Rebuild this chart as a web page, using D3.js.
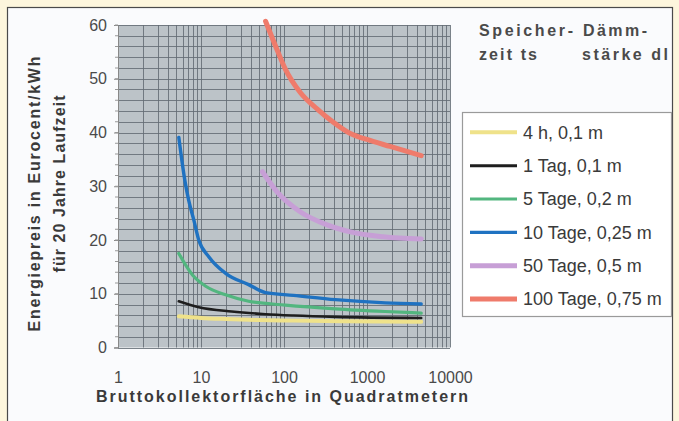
<!DOCTYPE html>
<html><head><meta charset="utf-8">
<script src="https://cdn.jsdelivr.net/npm/d3@7"></script>
<style>
html,body{margin:0;padding:0;background:#fdf6dd;}
svg{display:block;font-family:"Liberation Sans",Arial,sans-serif;}
</style></head><body>
<svg id="chart" width="679" height="421"></svg>
<script>
// ---------- data ----------
const xTicks = [1, 10, 100, 1000, 10000];
const yTicks = [0, 10, 20, 30, 40, 50, 60];
const seriesNames = ["4 h, 0,1 m", "1 Tag, 0,1 m", "5 Tage, 0,2 m", "10 Tage, 0,25 m", "50 Tage, 0,5 m", "100 Tage, 0,75 m"];
const seriesColors = ["#efe28a", "#1e1e1e", "#52b67f", "#1f72c1", "#c79fd6", "#ef7b6b"];
const seriesWidths = [4, 2.6, 3.2, 3.4, 5, 5];

const area4h   = [5.4, 10, 20, 50, 130, 500, 4500];
const price4h  = [5.8, 5.5, 5.3, 5.1, 5.0, 4.9, 4.8];
const area1d   = [5.4, 9.4, 23.4, 60, 130, 416, 4500];
const price1d  = [8.6, 7.5, 6.7, 6.2, 5.95, 5.7, 5.5];
const area5d   = [5.4, 7.9, 11.4, 19.8, 37.5, 104, 416, 1657, 4500];
const price5d  = [17.5, 13.5, 11.4, 9.8, 8.6, 7.9, 7.2, 6.7, 6.4];
const area10d  = [5.4, 6.4, 7.1, 8.2, 9.4, 12.4, 19.8, 37.5, 60, 130, 416, 1657, 4500];
const price10d = [39.1, 31, 27.4, 23.7, 20, 16.9, 13.8, 11.7, 10.2, 9.7, 8.9, 8.3, 8.1];
const area50d  = [55, 83, 158, 330, 630, 1567, 4500];
const price50d = [32.7, 28.9, 25.2, 22.8, 21.5, 20.6, 20.2];
const area100d = [60, 79, 103, 158, 250, 393, 630, 1000, 1900, 4500];
const price100d= [60.7, 56.1, 51.9, 47.4, 44.4, 41.9, 39.8, 38.7, 37.4, 35.7];

const seriesX = [area4h, area1d, area5d, area10d, area50d, area100d];
const seriesY = [price4h, price1d, price5d, price10d, price50d, price100d];

// ---------- layout ----------
const svg = d3.select("#chart");
const L = 118, R = 450, T = 25, B = 347.5;
const x = d3.scaleLog().domain([1, 10000]).range([L, R]);
const y = d3.scaleLinear().domain([0, 60]).range([B, T]);

// frame
svg.append("rect").attr("x", 0).attr("y", 0).attr("width", 679).attr("height", 421).attr("fill", "#fdf6dd");
svg.append("rect").attr("x", 7.5).attr("y", 7.5).attr("width", 665).attr("height", 430)
  .attr("fill", "#fafbfd").attr("stroke", "#4a4a4a").attr("stroke-width", 1.2);

// plot background
svg.append("rect").attr("x", L).attr("y", T).attr("width", R - L).attr("height", B - T).attr("fill", "#bcc3c8");

// grid
const minorX = [];
for (let d = 1; d < 10000; d *= 10) for (let k = 1; k <= 9; k++) minorX.push(d * k);
minorX.push(10000);
const gridColor = "#646d75";
svg.append("g").selectAll("line").data(minorX).join("line")
  .attr("x1", d => Math.round(x(d)) + 0.5).attr("x2", d => Math.round(x(d)) + 0.5)
  .attr("y1", T).attr("y2", B).attr("stroke", gridColor).attr("stroke-width", 1).attr("opacity", 0.85);
const minorY = d3.range(0, 61, 2);
svg.append("g").selectAll("line").data(minorY).join("line")
  .attr("x1", L).attr("x2", R)
  .attr("y1", d => Math.round(y(d)) + 0.5).attr("y2", d => Math.round(y(d)) + 0.5)
  .attr("stroke", gridColor).attr("stroke-width", 1).attr("opacity", 0.85);

// y axis
const yAxis = d3.axisLeft(y).tickValues(yTicks).tickSize(4).tickPadding(7).tickFormat(d3.format("d"));
const gy = svg.append("g").attr("transform", `translate(${L},0)`).call(yAxis);
gy.select(".domain").attr("stroke", "#888");
gy.selectAll(".tick line").attr("stroke", "#888");
gy.selectAll("text").attr("font-size", 16).attr("fill", "#4a4a4a").attr("font-family", "Liberation Sans, Arial");
svg.append("g").selectAll("line").data(minorY).join("line")
  .attr("x1", L - 3).attr("x2", L).attr("y1", d => y(d)).attr("y2", d => y(d)).attr("stroke", "#999");

// x axis
const xAxis = d3.axisBottom(x).tickValues(xTicks).tickSize(0).tickPadding(24).tickFormat(d3.format("d"));
const gx = svg.append("g").attr("transform", `translate(0,${B})`).call(xAxis);
gx.select(".domain").remove();
gx.selectAll("text").attr("font-size", 16).attr("fill", "#4a4a4a").attr("font-family", "Liberation Sans, Arial");

// axis titles
svg.append("text").attr("x", 282).attr("y", 402).attr("text-anchor", "middle")
  .attr("font-size", 16).attr("font-weight", "bold").attr("fill", "#3a3a3a")
  .attr("textLength", 372).attr("lengthAdjust", "spacing")
  .text("Bruttokollektorfläche in Quadratmetern");
svg.append("text").attr("transform", "translate(40,194) rotate(-90)").attr("text-anchor", "middle")
  .attr("font-size", 16).attr("font-weight", "bold").attr("fill", "#3a3a3a")
  .attr("textLength", 275).attr("lengthAdjust", "spacing")
  .text("Energiepreis in Eurocent/kWh");
svg.append("text").attr("transform", "translate(65,184) rotate(-90)").attr("text-anchor", "middle")
  .attr("font-size", 16).attr("font-weight", "bold").attr("fill", "#3a3a3a")
  .attr("textLength", 177).attr("lengthAdjust", "spacing")
  .text("für 20 Jahre Laufzeit");

// lines
const line = d3.line().x(d => x(d[0])).y(d => y(d[1])).curve(d3.curveMonotoneX);
seriesX.forEach((xs, i) => {
  const pts = xs.map((v, j) => [v, seriesY[i][j]]);
  svg.append("path").datum(pts).attr("d", line).attr("fill", "none")
    .attr("stroke", seriesColors[i]).attr("stroke-width", seriesWidths[i])
    .attr("stroke-linecap", "round").attr("stroke-linejoin", "round");
});

// header
const hdr = [["Speicher-", 479, 36, 94], ["Dämm-", 583, 36, 64], ["zeit ts", 479, 60, 58], ["stärke dl", 582, 60, 86]];
svg.append("g").selectAll("text").data(hdr).join("text")
  .attr("x", d => d[1]).attr("y", d => d[2]).attr("font-size", 16).attr("font-weight", "bold")
  .attr("fill", "#4a4a4a").attr("textLength", d => d[3]).attr("lengthAdjust", "spacing").text(d => d[0]);

// legend
svg.append("rect").attr("x", 462.5).attr("y", 112.5).attr("width", 209).attr("height", 204)
  .attr("fill", "#ffffff").attr("stroke", "#9a9a9a").attr("stroke-width", 1.2);
const lg = svg.append("g").selectAll("g").data(seriesNames).join("g")
  .attr("transform", (d, i) => `translate(0,${132.3 + i * 33.35})`);
lg.append("line").attr("x1", 470).attr("x2", 517).attr("y1", 0).attr("y2", 0)
  .attr("stroke", (d, i) => seriesColors[i]).attr("stroke-width", (d, i) => Math.max(3, seriesWidths[i]));
lg.append("text").attr("x", 523).attr("y", 0).attr("dy", "0.35em").attr("font-size", 18)
  .attr("fill", "#3a3a3a").text(d => d);
</script>
</body></html>
